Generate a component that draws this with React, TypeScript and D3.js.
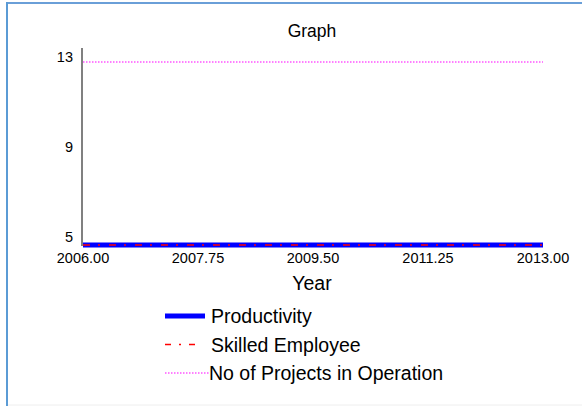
import React from "react";
import * as d3 from "d3";

const years = [2006, 2007, 2008, 2009, 2010, 2011, 2012, 2013];
const productivity = [4.87, 4.87, 4.87, 4.87, 4.87, 4.87, 4.87, 4.87];
const skilledEmployee = [4.87, 4.87, 4.87, 4.87, 4.87, 4.87, 4.87, 4.87];
const projectsInOperation = [13, 13, 13, 13, 13, 13, 13, 13];
const xTicks = [2006, 2007.75, 2009.5, 2011.25, 2013];
const yTicks = [5, 9, 13];
const seriesNames = ["Productivity", "Skilled Employee", "No of Projects in Operation"];

export default function App() {
  const W = 582, H = 406;
  const x = d3.scaleLinear().domain([2006, 2013]).range([83, 543]);
  const y = d3.scaleLinear().domain([5, 13]).range([242, 62]);
  const line = (vals: number[]) =>
    d3.line<number>().x((_, i) => x(years[i])).y((v) => y(v))(vals) as string;
  const font = "Liberation Sans, Arial, sans-serif";
  const styles = [
    { stroke: "#0000ff", width: 5, dash: undefined as string | undefined },
    { stroke: "#ff0000", width: 1.6, dash: "7 8 2 9" },
    { stroke: "#ff00ff", width: 1.2, dash: "1.5 1.5" },
  ];
  const data = [productivity, skilledEmployee, projectsInOperation];
  return (
    <svg width={W} height={H} style={{ position: "absolute", left: 0, top: 0 }} fontFamily={font}>
      <rect x={0} y={0} width={W} height={H} fill="#fff" />
      <line x1={6} y1={3} x2={W} y2={3} stroke="#6a9fd8" strokeWidth={2} />
      <line x1={7} y1={2} x2={7} y2={H} stroke="#5b9bd5" strokeWidth={2} />
      <line x1={8} y1={405} x2={W} y2={405} stroke="#eeeeee" strokeWidth={1} />
      <text x={312} y={37} textAnchor="middle" fontSize={17.5} fill="#000">Graph</text>
      {/* y axis */}
      <line x1={82} y1={48} x2={82} y2={246} stroke="#808080" strokeWidth={2} />
      {yTicks.map((t) => (
        <text key={t} x={73} y={y(t)} textAnchor="end" fontSize={14.5} fill="#000">{t}</text>
      ))}
      {xTicks.map((t) => (
        <text key={t} x={x(t)} y={263} textAnchor="middle" fontSize={14.5} fill="#000">{t.toFixed(2)}</text>
      ))}
      <text x={312} y={290} textAnchor="middle" fontSize={19.5} fill="#000">Year</text>
      {data.map((vals, i) => (
        <path key={i} d={line(vals)} fill="none" stroke={styles[i].stroke}
          strokeWidth={styles[i].width} strokeDasharray={styles[i].dash} />
      ))}
      {/* legend */}
      {seriesNames.map((name, i) => {
        const ly = 316 + i * 28.5;
        const x2 = i === 0 ? 205 : i === 1 ? 200 : 209;
        return (
          <g key={name}>
            <line x1={165} y1={ly} x2={x2} y2={ly} stroke={styles[i].stroke}
              strokeWidth={styles[i].width} strokeDasharray={i === 1 ? "6 8 2 8" : styles[i].dash} />
            <text x={i === 2 ? 209 : 211} y={ly + 7} fontSize={19.5} fill="#000">{name}</text>
          </g>
        );
      })}
    </svg>
  );
}
